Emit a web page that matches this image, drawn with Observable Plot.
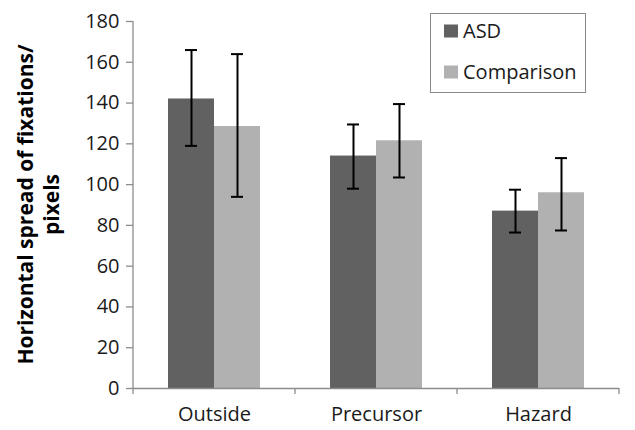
<!DOCTYPE html>
<html>
<head>
<meta charset="utf-8">
<script src="https://cdn.jsdelivr.net/npm/d3@7"></script>
<script src="https://cdn.jsdelivr.net/npm/@observablehq/plot@0.6"></script>
<style>
  html, body { margin: 0; padding: 0; background: #fff; }
  #chart svg { display: block; }
</style>
</head>
<body>
<div id="chart"></div>
<script>
const categories = ["Outside", "Precursor", "Hazard"];
const groups = ["ASD", "Comparison"];
const asdMean = [142, 114, 87];
const asdLow = [119, 98, 76.5];
const asdHigh = [166, 129.5, 97.5];
const compMean = [128.5, 121.5, 96];
const compLow = [94, 103.5, 77.5];
const compHigh = [164, 139.5, 113];
const yTicks = [0, 20, 40, 60, 80, 100, 120, 140, 160, 180];
const colors = ["#616161", "#b1b1b1"];
const yTitle = ["Horizontal spread of fixations/", "pixels"];

const data = [];
categories.forEach((c, i) => {
  data.push({cat: c, group: "ASD", value: asdMean[i], low: asdLow[i], high: asdHigh[i]});
  data.push({cat: c, group: "Comparison", value: compMean[i], low: compLow[i], high: compHigh[i]});
});

const FONT = "'Open Sans', sans-serif";
const W = 635, H = 430;
const chart = Plot.plot({
  width: W, height: H,
  marginLeft: 132, marginRight: 15, marginTop: 21, marginBottom: 42,
  style: {fontFamily: FONT, fontSize: "20px", background: "white", color: "#1a1a1a"},
  fx: {domain: categories, padding: 0, label: null, axis: "bottom", tickSize: 0, tickPadding: 18},
  x: {domain: groups, axis: null, paddingInner: 0, paddingOuter: 0.76},
  y: {domain: [0, 180], ticks: yTicks, tickSize: 7, tickPadding: 7, label: null},
  color: {domain: groups, range: colors},
  marks: [
    Plot.barY(data, {fx: "cat", x: "group", y: "value", fill: "group"}),
    Plot.ruleX(data, {fx: "cat", x: "group", y1: "low", y2: "high", stroke: "#000", strokeWidth: 2}),
    Plot.tickY(data, {fx: "cat", x: "group", y: "high", stroke: "#000", strokeWidth: 2, insetLeft: 17, insetRight: 17}),
    Plot.tickY(data, {fx: "cat", x: "group", y: "low", stroke: "#000", strokeWidth: 2, insetLeft: 17, insetRight: 17}),
    Plot.ruleY([0], {stroke: "#8c8c8c", strokeWidth: 1.3})
  ]
});
document.getElementById("chart").appendChild(chart);

const svg = d3.select(chart);
svg.selectAll("g[aria-label='y-axis tick'] path").attr("stroke", "#8c8c8c").attr("stroke-width", 1.3);

const fx = chart.scale("fx");
const y = chart.scale("y");
const y0 = y.apply(0);
const ax = svg.append("g").attr("stroke", "#8c8c8c").attr("stroke-width", 1.3);
const left = fx.apply(categories[0]);
ax.append("line").attr("x1", left).attr("x2", left).attr("y1", y.apply(180)).attr("y2", y0);
const bounds = categories.map(c => fx.apply(c)).concat([fx.apply(categories[categories.length - 1]) + fx.bandwidth]);
bounds.forEach(b => ax.append("line").attr("x1", b).attr("x2", b).attr("y1", y0).attr("y2", y0 + 6));

// y title
const midY = (y.apply(180) + y0) / 2;
const t = svg.append("text")
  .attr("transform", `translate(0,${midY}) rotate(-90)`)
  .attr("text-anchor", "middle")
  .attr("font-family", FONT)
  .attr("font-weight", "bold")
  .attr("font-size", 21)
  .attr("fill", "#000");
t.append("tspan").attr("x", 0).attr("y", 33).text(yTitle[0]);
t.append("tspan").attr("x", 0).attr("y", 59).text(yTitle[1]);

// legend
const color = chart.scale("color");
const lg = svg.append("g");
lg.append("rect").attr("x", 430.5).attr("y", 13.5).attr("width", 155).attr("height", 79)
  .attr("fill", "white").attr("stroke", "#888").attr("stroke-width", 1);
groups.forEach((g, i) => {
  const cy = 31 + i * 41;
  lg.append("rect").attr("x", 444).attr("y", cy - 6.5).attr("width", 14).attr("height", 13).attr("fill", color.apply(g));
  lg.append("text").attr("x", 463).attr("y", cy).attr("dy", "0.36em").attr("text-anchor", "start")
    .attr("font-family", FONT).attr("font-size", 20).attr("fill", "#1a1a1a").text(g);
});
</script>
</body>
</html>
